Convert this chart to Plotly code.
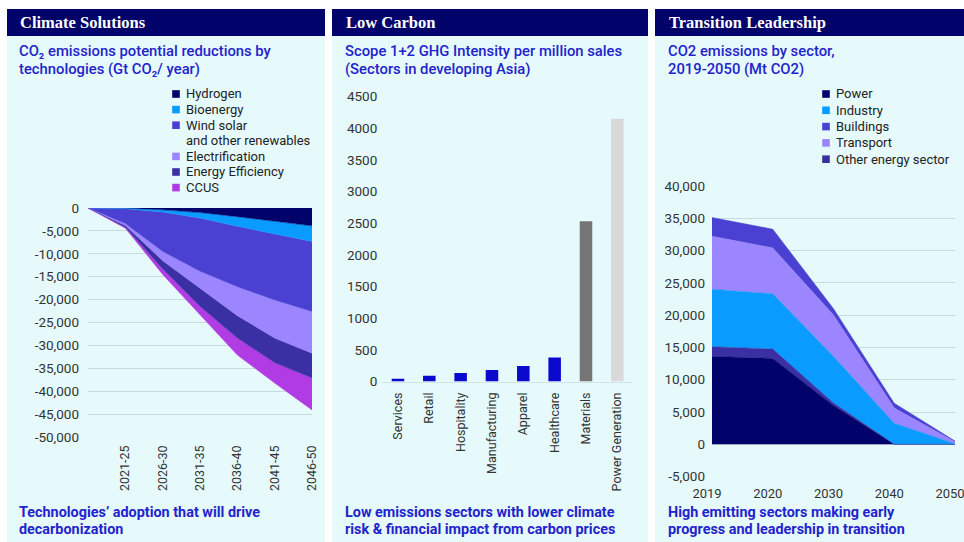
import plotly.graph_objects as go

W, H = 964, 542

# ---------------- Panel 1 data: CO2 reductions by technology ----------------
periods = ["", "2021-25", "2026-30", "2031-35", "2036-40", "2041-45", "2046-50"]
tech_names = ["Hydrogen", "Bioenergy", "Wind solar<br>and other renewables",
              "Electrification", "Energy Efficiency", "CCUS"]
hydrogen = [0, -50, -400, -1000, -1900, -2900, -3900]
bioenergy = [0, -100, -500, -1200, -2100, -2800, -3400]
wind_solar = [0, -3250, -8600, -11600, -13200, -14400, -15300]
electrification = [0, -400, -2000, -3700, -6300, -8300, -9100]
energy_efficiency = [0, -400, -1800, -4000, -4900, -5400, -5400]
ccus = [0, -200, -1200, -1800, -3700, -4400, -7000]
p1_ticks = list(range(0, -50001, -5000))

# ---------------- Panel 2 data: GHG intensity by sector ----------------
sectors = ["Services", "Retail", "Hospitality", "Manufacturing", "Apparel",
           "Healthcare", "Materials", "Power Generation"]
intensity = [45, 90, 135, 180, 245, 380, 2530, 4150]
p2_ticks = list(range(0, 4501, 500))

# ---------------- Panel 3 data: CO2 emissions by sector ----------------
years = ["2019", "2020", "2030", "2040", "2050"]
power = [13600, 13300, 6000, 0, 0]
other_energy = [1500, 1450, 400, 0, 0]
industry = [8900, 8550, 7200, 3250, 100]
transport = [8200, 7100, 6400, 2350, 300]
buildings = [2900, 2900, 1000, 750, 100]
p3_ticks = list(range(-5000, 40001, 5000))

# ---------------- styling ----------------
NAVY = "#02026B"
LBLUE = "#0A9BFF"
MVIOLET = "#4A40D2"
LAVENDER = "#9C86FF"
INDIGO = "#3A30A3"
MAGENTA = "#B23CE4"
PANEL_BG = "#E6FAFC"
TXT_BLUE = "#2323CC"
TICK = "#333333"
GRID = "#C9DADE"
SANS = "Roboto"
SERIF = "Liberation Serif"

tech_series = [hydrogen, bioenergy, wind_solar, electrification, energy_efficiency, ccus]
tech_colors = [NAVY, LBLUE, MVIOLET, LAVENDER, INDIGO, MAGENTA]

sector_series = [power, other_energy, industry, transport, buildings]
sector_names = ["Power", "Other energy sector", "Industry", "Transport", "Buildings"]
sector_colors = [NAVY, INDIGO, LBLUE, LAVENDER, MVIOLET]
legend3_order = ["Power", "Industry", "Buildings", "Transport", "Other energy sector"]

bar_colors = ["#0A0ACF"] * 6 + ["#767676", "#D9D9D9"]


def fx(p):
    return p / W


def fy(p):
    return 1 - p / H


fig = go.Figure()

# Panel 1 stacked areas
x1 = list(range(len(periods)))
for name, vals, col in zip(tech_names, tech_series, tech_colors):
    fig.add_trace(go.Scatter(
        x=x1, y=vals, name=name.replace("<br>", " "), stackgroup="p1",
        mode="lines", line=dict(width=0.5, color=col), fillcolor=col,
        xaxis="x", yaxis="y", showlegend=False, hoverinfo="skip"))

# Panel 2 bars
fig.add_trace(go.Bar(
    x=sectors, y=intensity, marker=dict(color=bar_colors, line=dict(width=0)),
    width=0.4, xaxis="x2", yaxis="y2", showlegend=False, hoverinfo="skip"))

# Panel 3 stacked areas
x3 = list(range(len(years)))
for name, vals, col in zip(sector_names, sector_series, sector_colors):
    fig.add_trace(go.Scatter(
        x=x3, y=vals, name=name, stackgroup="p3",
        mode="lines", line=dict(width=0.5, color=col), fillcolor=col,
        xaxis="x3", yaxis="y3", showlegend=False, hoverinfo="skip"))

tickfont = dict(family=SANS, size=13.5, color=TICK)
xtickfont = dict(family=SANS, size=12.5, color=TICK)
common = dict(automargin=False, fixedrange=True, zeroline=False, ticks="",
              ticklabeloverflow="allow")

fig.update_layout(
    width=W, height=H, margin=dict(l=0, r=0, t=0, b=0, pad=0, autoexpand=False),
    paper_bgcolor="white", plot_bgcolor="rgba(0,0,0,0)",
    showlegend=False, font=dict(family=SANS, color=TICK),
    xaxis=dict(domain=[fx(88), fx(312)], range=[0, 6], tickvals=x1[1:], ticktext=periods[1:],
               tickangle=-90, showgrid=False, showline=False,
               tickfont=xtickfont, ticklabelstandoff=5, **common),
    yaxis=dict(domain=[fy(437), fy(208)], range=[-50000, 0], tickvals=p1_ticks,
               ticktext=[f"{v:,}" for v in p1_ticks], showgrid=True, gridcolor=GRID, gridwidth=1,
               showline=False, tickfont=tickfont, ticklabelstandoff=8, **common),
    xaxis2=dict(domain=[fx(382.3), fx(633)], range=[-0.5, 7.5], tickangle=-90, showgrid=False,
                showline=True, linecolor="#D3E3E6", linewidth=1,
                tickfont=xtickfont, ticklabelstandoff=5, anchor="y2", **common),
    yaxis2=dict(domain=[fy(381.5), fy(96.5)], range=[0, 4500], tickvals=p2_ticks,
                ticktext=[str(v) for v in p2_ticks], showgrid=False,
                showline=False, tickfont=tickfont, ticklabelstandoff=4,
                anchor="x2", **common),
    xaxis3=dict(domain=[fx(712), fx(955)], range=[0, 4], tickvals=x3, ticktext=years,
                showgrid=False, showline=False, tickfont=dict(family=SANS, size=13, color=TICK),
                ticklabelstandoff=7, ticklabelshift=-5, anchor="y3", **common),
    yaxis3=dict(domain=[fy(476.6), fy(185.9)], range=[-5000, 40000], tickvals=p3_ticks,
                ticktext=[f"{v:,}" for v in p3_ticks], showgrid=True, gridcolor=GRID,
                gridwidth=1, showline=False, tickfont=tickfont,
                ticklabelstandoff=6, anchor="x3", **common),
)

shapes = []
annotations = []

panels = [
    dict(x0=7, x1=325, title="Climate Solutions", tx=18,
         sub=["CO₂ emissions potential reductions by", "technologies (Gt CO₂/ year)"],
         foot=["Technologies’ adoption that will drive", "decarbonization"]),
    dict(x0=332, x1=648, title="Low Carbon", tx=344,
         sub=["Scope 1+2 GHG Intensity per million sales", "(Sectors in developing Asia)"],
         foot=["Low emissions sectors with lower climate", "risk & financial impact from carbon prices"]),
    dict(x0=655, x1=964, title="Transition Leadership", tx=667,
         sub=["CO2 emissions by sector,", "2019-2050 (Mt CO2)"],
         foot=["High emitting sectors making early", "progress and leadership in transition"]),
]

for p in panels:
    shapes.append(dict(type="rect", xref="paper", yref="paper", layer="below",
                       x0=fx(p["x0"]), x1=fx(p["x1"]), y0=fy(542), y1=fy(36),
                       fillcolor=PANEL_BG, line=dict(width=0)))
    shapes.append(dict(type="rect", xref="paper", yref="paper", layer="below",
                       x0=fx(p["x0"]), x1=fx(p["x1"]), y0=fy(36), y1=fy(9),
                       fillcolor=NAVY, line=dict(width=0)))
    annotations.append(dict(xref="paper", yref="paper", x=fx(p["tx"]), y=fy(22.5),
                            xanchor="left", yanchor="middle", showarrow=False,
                            text=p["title"],
                            font=dict(family=SERIF, size=16.5, color="white", weight="bold")))
    for i, line in enumerate(p["sub"]):
        annotations.append(dict(xref="paper", yref="paper", x=fx(p["tx"] - 1), y=fy(51.5 + 17.5 * i),
                                xanchor="left", yanchor="middle", showarrow=False, text=line,
                                font=dict(family=SANS, size=14.8, color=TXT_BLUE, weight=500)))
    for i, line in enumerate(p["foot"]):
        annotations.append(dict(xref="paper", yref="paper", x=fx(p["tx"] - 1), y=fy(512.8 + 16.4 * i),
                                xanchor="left", yanchor="middle", showarrow=False, text=line,
                                font=dict(family=SANS, size=14.4, color=TXT_BLUE, weight="bold")))


def add_legend(names, colors, sq_x, txt_x, y0, step):
    y = y0
    for name, col in zip(names, colors):
        lines = name.split("<br>")
        shapes.append(dict(type="rect", xref="paper", yref="paper",
                           x0=fx(sq_x - 3.8), x1=fx(sq_x + 3.8), y0=fy(y + 3.8), y1=fy(y - 3.8),
                           fillcolor=col, line=dict(width=0)))
        for ln in lines:
            annotations.append(dict(xref="paper", yref="paper", x=fx(txt_x), y=fy(y),
                                    xanchor="left", yanchor="middle", showarrow=False, text=ln,
                                    font=dict(family=SANS, size=13, color="#222222")))
            y += step


add_legend(tech_names, tech_colors, 176, 184, 94, 15.6)
legend3_colors = [sector_colors[sector_names.index(n)] for n in legend3_order]
add_legend(legend3_order, legend3_colors, 826, 834, 94, 16.3)

fig.update_layout(shapes=shapes, annotations=annotations)

fig.write_html("out.html",
               post_script="document.body.style.margin='0';document.body.style.overflow='hidden';")
